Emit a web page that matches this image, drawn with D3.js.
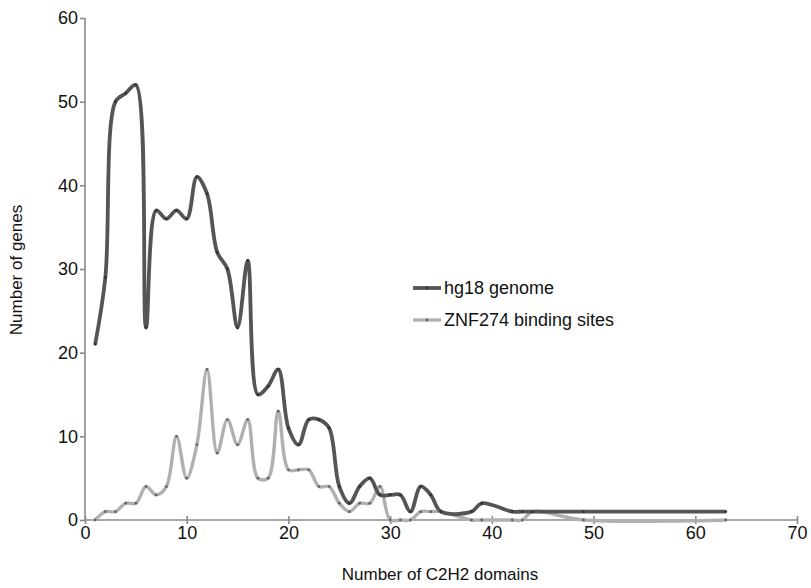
<!DOCTYPE html>
<html><head><meta charset="utf-8">
<script src="https://cdn.jsdelivr.net/npm/d3@7"></script>
<style>
body{margin:0;background:#fff;}
text{font-family:"Liberation Sans",Arial,sans-serif;fill:#111;}
</style></head>
<body><svg id="c" width="811" height="588"></svg>
<script>
const xValues = [1,2,3,4,5,6,7,8,9,10,11,12,13,14,15,16,17,18,19,20,21,22,23,24,25,26,27,28,29,30,31,32,33,34,35,38,39,42,43,44,49,63];
const hg18 = [21,29,50,51,52,23,37,36,37,36,41,39,32,30,23,31,15,16,18,11,9,12,12,11,4,2,4,5,3,3,3,1,4,3,1,1,2,1,1,1,1,1];
const znf274 = [0,1,1,2,2,4,3,4,10,5,9,18,8,12,9,12,5,5,13,6,6,6,4,4,2,1,2,2,4,0,0,0,1,1,1,0,0,0,0,1,0,0];
const xTicks = [0,10,20,30,40,50,60,70];
const yTicks = [0,10,20,30,40,50,60];
const seriesNames = ["hg18 genome","ZNF274 binding sites"];

const svg = d3.select("#c");
const x = d3.scaleLinear().domain([0,70]).range([85,797]);
const y = d3.scaleLinear().domain([0,60]).range([520,18]);

const axisColor = "#8a8a8a";
const yAxis = svg.append("g").attr("transform","translate(85,0)")
  .call(d3.axisLeft(y).tickValues(yTicks).tickSize(5).tickPadding(2));
const xAxis = svg.append("g").attr("transform","translate(0,520)")
  .call(d3.axisBottom(x).tickValues(xTicks).tickSize(4).tickPadding(2));
[xAxis,yAxis].forEach(g=>{
  g.selectAll("path,line").attr("stroke",axisColor).attr("stroke-width",1.6);
  g.selectAll("text").attr("font-size",18).attr("font-family","Liberation Sans, Arial, sans-serif").attr("fill","#111");
});
xAxis.selectAll(".tick line").attr("y1",-4);
xAxis.select(".domain").attr("d","M85,0H797");
yAxis.select(".domain").attr("d","M0,520V18");

const line = d3.line().x((d,i)=>x(xValues[i])).y(d=>y(d)).curve(d3.curveCatmullRom.alpha(0.5));
const series = [
  {name:seriesNames[0], vals:hg18, color:"#555555", w:3.8, mk:"#333"},
  {name:seriesNames[1], vals:znf274, color:"#b0b0b0", w:3.4, mk:"#666"}
];
series.slice().reverse().forEach(s=>{
  svg.append("path").datum(s.vals).attr("d",line).attr("fill","none")
    .attr("stroke",s.color).attr("stroke-width",s.w).attr("stroke-linejoin","round");
  svg.append("g").selectAll("circle").data(s.vals).join("circle")
    .attr("cx",(d,i)=>x(xValues[i])).attr("cy",d=>y(d)).attr("r",1.4).attr("fill",s.mk);
});

// legend
series.forEach((s,i)=>{
  const ly = 288 + i*32;
  svg.append("line").attr("x1",413).attr("x2",441).attr("y1",ly).attr("y2",ly)
    .attr("stroke",s.color).attr("stroke-width",s.w);
  svg.append("circle").attr("cx",427).attr("cy",ly).attr("r",1.4).attr("fill",s.mk);
  svg.append("text").attr("x",444).attr("y",ly+6).attr("font-size",18).text(s.name);
});

svg.append("text").attr("transform","translate(22,270) rotate(-90)").attr("text-anchor","middle")
  .attr("font-size",17).text("Number of genes");
svg.append("text").attr("x",440).attr("y",580).attr("text-anchor","middle")
  .attr("font-size",17).text("Number of C2H2 domains");
</script></body></html>
